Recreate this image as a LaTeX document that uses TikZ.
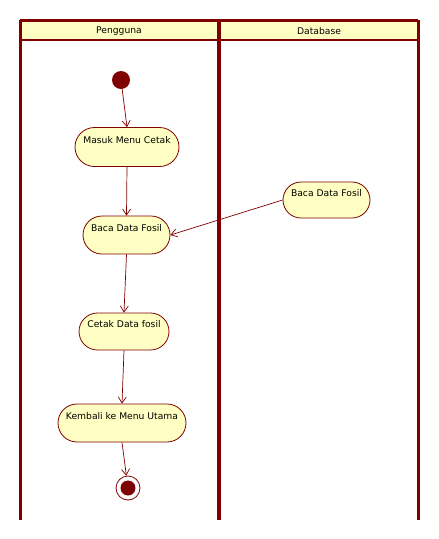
\documentclass[tikz,border=0pt]{standalone}
\usepackage{fontspec}
\setmainfont{DejaVu Sans}
\usetikzlibrary{shapes.misc,arrows.meta}
\definecolor{umlred}{HTML}{7F0000}
\definecolor{umlfill}{HTML}{FFFFC4}
\begin{document}
\begin{tikzpicture}[x=1pt,y=-1pt,
  act/.style={rounded rectangle, draw=umlred, fill=umlfill, line width=0.8pt,
    font=\fontsize{9.2}{11}\selectfont, text height=8pt, text depth=16pt, inner sep=2pt},
  flow/.style={draw=umlred, line width=0.7pt, -{Straight Barb[length=6pt,width=8pt]}},
  lane/.style={draw=umlred, line width=3pt},
  hdr/.style={font=\fontsize{9.2}{11}\selectfont}]
\useasboundingbox (0,0) rectangle (439,539);
% swimlane frame
\fill[umlfill] (20,20) rectangle (418,40);
\draw[umlred, line width=2pt] (20,40) -- (418,40);
\draw[lane] (20,20) -- (418,20);
\draw[lane] (20,20) -- (20,520);
\draw[lane] (418,20) -- (418,520);
\draw[draw=umlred, line width=4pt] (219,20) -- (219,520);
\node[hdr] (h1) at (119,31) {Pengguna};
\node[hdr] (h2) at (319,31) {Database};
% nodes
\node[circle, fill=umlred, minimum size=18pt, inner sep=0pt] (start) at (121,80) {};
\node[act, minimum width=108pt, minimum height=39pt] (masuk) at (127,147) {Masuk Menu Cetak};
\node[act, minimum width=91pt, minimum height=38pt] (baca1) at (126.5,235) {Baca Data Fosil};
\node[act, minimum width=91pt, minimum height=36pt] (baca2) at (326.5,200) {Baca Data Fosil};
\node[act, minimum width=94pt, minimum height=37pt] (cetak) at (124,331.5) {Cetak Data fosil};
\node[act, minimum width=132pt, minimum height=38pt] (kembali) at (122,423) {Kembali ke Menu Utama};
\node[circle, draw=umlred, line width=0.8pt, minimum size=24pt, inner sep=0pt] (end) at (128,488) {};
\fill[umlred] (end.center) circle (7.5);
% flows
\draw[flow] (start) -- (masuk.north);
\draw[flow] (masuk.south) -- (baca1.north);
\draw[flow] (baca2.west) -- (baca1.east);
\draw[flow] (baca1.south) -- (cetak.north);
\draw[flow] (cetak.south) -- (kembali.north);
\draw[flow] (kembali.south) -- (end);
\end{tikzpicture}
\end{document}
